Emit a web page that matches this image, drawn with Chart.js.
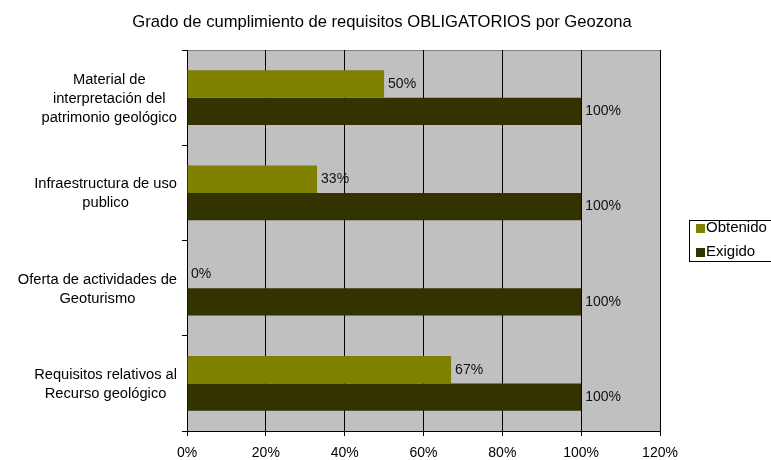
<!DOCTYPE html>
<html>
<head>
<meta charset="utf-8">
<script src="https://cdn.jsdelivr.net/npm/chart.js@4"></script>
<style>
  html, body { margin: 0; padding: 0; background: #fff; }
  #wrap { width: 771px; height: 460px; }
</style>
</head>
<body>
<div id="wrap"><canvas id="chart" width="771" height="460"></canvas></div>
<script>
'use strict'

const titleText = 'Grado de cumplimiento de requisitos OBLIGATORIOS por Geozona'
const categories = [
  ['Material de', 'interpretación del', 'patrimonio geológico'],
  ['Infraestructura de uso', 'publico'],
  ['Oferta de actividades de', 'Geoturismo'],
  ['Requisitos relativos al', 'Recurso geológico']
]
const obtenido = [50, 33, 0, 67]
const exigido = [100, 100, 100, 100]
const seriesNames = ['Obtenido', 'Exigido']
const xTicks = [0, 20, 40, 60, 80, 100, 120]

const FONT = 'Arial, "Liberation Sans", sans-serif'

const plotBackground = {
  id: 'plotBackground',
  beforeDraw(chart) {
    const { ctx, chartArea: a } = chart
    ctx.save()
    ctx.fillStyle = '#c0c0c0'
    ctx.fillRect(a.left, a.top, a.right - a.left, a.bottom - a.top)
    ctx.strokeStyle = '#808080'
    ctx.lineWidth = 1
    ctx.beginPath()
    ctx.moveTo(a.left, a.top + 0.5)
    ctx.lineTo(a.right + 0.5, a.top + 0.5)
    ctx.lineTo(a.right + 0.5, a.bottom)
    ctx.stroke()
    ctx.restore()
  }
}

// title drawn by hand so it can sit off-centre like the original
const chartTitle = {
  id: 'chartTitle',
  afterDraw(chart) {
    const { ctx } = chart
    ctx.save()
    ctx.font = '16.6px ' + FONT
    ctx.fillStyle = '#000'
    ctx.textAlign = 'center'
    ctx.textBaseline = 'alphabetic'
    ctx.fillText(titleText, 382, 27)
    ctx.restore()
  }
}

// category labels: block right-aligned against the axis, lines centred inside the block
const categoryLabels = {
  id: 'categoryLabels',
  afterDraw(chart) {
    const { ctx } = chart
    const y = chart.scales.y
    const lineH = 19
    ctx.save()
    ctx.font = '14.7px ' + FONT
    ctx.fillStyle = '#000'
    ctx.textAlign = 'center'
    ctx.textBaseline = 'middle'
    categories.forEach((lines, i) => {
      const w = Math.max(...lines.map(l => ctx.measureText(l).width))
      const cx = y.right - 10 - w / 2
      const cy = y.getPixelForTick(i) + 1
      lines.forEach((l, k) => {
        ctx.fillText(l, cx, cy + (k - (lines.length - 1) / 2) * lineH)
      })
    })
    ctx.restore()
  }
}

const valueLabels = {
  id: 'valueLabels',
  afterDatasetsDraw(chart) {
    const { ctx } = chart
    ctx.save()
    ctx.font = '14px ' + FONT
    ctx.fillStyle = '#111'
    ctx.textBaseline = 'middle'
    ctx.textAlign = 'left'
    chart.data.datasets.forEach((ds, i) => {
      chart.getDatasetMeta(i).data.forEach((bar, j) => {
        ctx.fillText(ds.data[j] + '%', bar.x + 4, bar.y)
      })
    })
    ctx.restore()
  }
}

const boxLegend = {
  id: 'boxLegend',
  afterDraw(chart) {
    const { ctx } = chart
    const x = 689, y = 220, w = 90, h = 41
    ctx.save()
    ctx.fillStyle = '#fff'
    ctx.fillRect(x, y, w, h)
    ctx.strokeStyle = '#000'
    ctx.lineWidth = 1
    ctx.strokeRect(x + 0.5, y + 0.5, w, h)
    ctx.font = '15px ' + FONT
    ctx.textBaseline = 'middle'
    chart.data.datasets.forEach((ds, i) => {
      const cy = y + 8 + i * 24
      ctx.fillStyle = ds.backgroundColor
      ctx.fillRect(x + 7, cy - 4, 9, 9)
      ctx.fillStyle = '#000'
      ctx.fillText(ds.label, x + 17, cy)
    })
    ctx.restore()
  }
}

new Chart(document.getElementById('chart').getContext('2d'), {
  type: 'bar',
  data: {
    labels: categories.map(l => l.join(' ')),
    datasets: [
      { label: seriesNames[0], data: obtenido, backgroundColor: '#808000' },
      { label: seriesNames[1], data: exigido, backgroundColor: '#333300' }
    ]
  },
  options: {
    indexAxis: 'y',
    responsive: false,
    animation: false,
    devicePixelRatio: 1,
    layout: { padding: { left: 0, right: 111, top: 50, bottom: 0 } },
    datasets: {
      bar: { categoryPercentage: 0.574, barPercentage: 1 }
    },
    scales: {
      x: {
        min: 0,
        max: 120,
        afterBuildTicks: scale => {
          scale.ticks = xTicks.map(v => ({ value: v }))
        },
        afterFit: scale => { scale.height = 29 },
        border: { color: '#000', width: 1 },
        grid: { color: '#000', tickLength: 5, lineWidth: 1 },
        ticks: {
          color: '#000',
          padding: 10,
          font: { family: FONT, size: 14, lineHeight: 1 },
          callback: v => v + '%'
        }
      },
      y: {
        border: { color: '#000', width: 1 },
        grid: { drawOnChartArea: false, offset: true, color: '#000', tickLength: 5 },
        ticks: { display: false },
        afterFit: scale => { scale.width = 187 }
      }
    },
    plugins: {
      legend: { display: false },
      tooltip: { enabled: false },
      title: { display: false }
    }
  },
  plugins: [plotBackground, chartTitle, categoryLabels, valueLabels, boxLegend]
})
</script>
</body>
</html>
